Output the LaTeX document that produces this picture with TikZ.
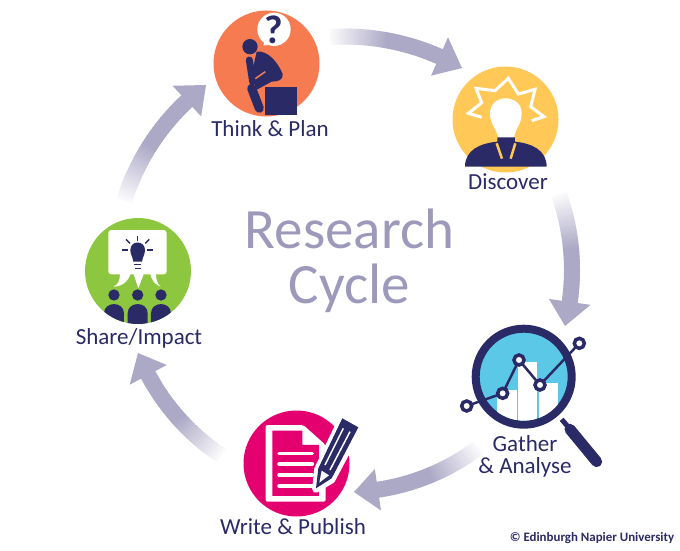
\documentclass[tikz,border=0pt]{standalone}
\usepackage{fontspec}
\setmainfont{Carlito}
\usetikzlibrary{calc}
\definecolor{inkNavy}{HTML}{2A2A66}
\definecolor{arrowGray}{HTML}{ACA9C6}
\definecolor{titleGray}{HTML}{9C99BA}
\definecolor{thinkOrange}{HTML}{F67B50}
\definecolor{discoverGold}{HTML}{FFC857}
\definecolor{gatherBlue}{HTML}{5BC8E8}
\definecolor{writePink}{HTML}{E5006F}
\definecolor{shareGreen}{HTML}{8DC63F}
\tikzset{
	stagedisc/.style={circle,inner sep=0pt,minimum size=106pt},
	stagelabel/.style={text=inkNavy,font=\fontsize{23}{22}\selectfont,inner sep=0pt,align=center},
	titlelabel/.style={text=titleGray,font=\fontsize{57}{55}\selectfont,inner sep=0pt,align=center},
	iconat/.style 2 args={shift={(#1,-#2)},x=.3333pt,y=-.3333pt},
}
\NewDocumentCommand\DrawCycleArrow{mm}%
{%
\foreach \i in {0,...,47}
{
	\pgfmathsetmacro\clr{min(100,6+94*\i/24)}
	\draw[arrowGray!\clr,line width=16pt] let \p1=($(#1)-(hub)$),\p2=($(#2)-(hub)$),
		\n1={atan2(\y1,\x1)},\n2={atan2(\y2,\x2)+6.2},\n3={veclen(\x2,\y2)},
		\n4={\n1+(\n2-\n1)*\i/48},\n5={(\n2-\n1)*1.3/48} in
		($(hub)+({\n4}:{\n3})$) arc[start angle=\n4,delta angle=\n5,radius=\n3];
}
\fill[arrowGray] let \p2=($(#2)-(hub)$),\n2={atan2(\y2,\x2)+6.2},\n3={veclen(\x2,\y2)} in
	($(hub)+({\n2}:{\n3-21})$) -- (#2) -- ($(hub)+({\n2}:{\n3+21})$) -- cycle;%
}
\begin{document}
\begin{tikzpicture}[x=1pt,y=1pt]
\useasboundingbox (0,0) rectangle (680,-551);
\coordinate (hub) at (345,-270);
\coordinate (thinkOut) at (330,-38);
\coordinate (discoverIn) at (462,-68);
\coordinate (discoverOut) at (563,-193);
\coordinate (gatherIn) at (565,-326);
\coordinate (gatherOut) at (478,-447);
\coordinate (writeIn) at (354,-492);
\coordinate (writeOut) at (223,-453);
\coordinate (shareIn) at (138,-353);
\coordinate (shareOut) at (128,-202);
\coordinate (thinkIn) at (206,-85);
\DrawCycleArrow{thinkOut}{discoverIn}
\DrawCycleArrow{discoverOut}{gatherIn}
\DrawCycleArrow{gatherOut}{writeIn}
\DrawCycleArrow{writeOut}{shareIn}
\DrawCycleArrow{shareOut}{thinkIn}
\node[titlelabel] (titleLabel) at (349.5,-260.5) {Research\\Cycle};

\node[stagedisc,fill=thinkOrange] (think) at (266.5,-63.5) {};
\begin{scope}[iconat={200}{0}]
	\fill[white] (222,88) circle[radius=50];
	\fill[white] (195,118) -- (190,137) -- (228,130) -- cycle;
	\node[text=inkNavy,font=\fontsize{40}{40}\bfseries\selectfont,inner sep=0pt] (askMark) at (220,88) {?};
	\fill[inkNavy] (150,140) circle[radius=23];
	\fill[inkNavy] (170,155) .. controls (205,150) and (235,190) .. (248,222) .. controls (250,240) and (235,245) .. (215,245) -- (165,272) -- (160,200) -- cycle;
	\draw[inkNavy,line width=9pt,line cap=round] (155,265) -- (178,325);
	\draw[inkNavy,line width=7pt,line cap=round] (148,180) -- (158,245);
	\draw[thinkOrange,line width=1.5pt] (166,236) -- (196,215);
	\fill[inkNavy] (195,262) rectangle (290,345);
\end{scope}

\node[stagedisc,fill=discoverGold] (discover) at (505.5,-119.5) {};
\begin{scope}[iconat={440}{60}]
	\draw[white,line width=3pt,line join=miter] (125,172) -- (85,160) -- (125,128) -- (108,85) -- (165,92) -- (205,55) -- (235,102) -- (285,88) -- (272,140) -- (312,170) -- (275,182);
	\fill[white] (175,235) .. controls (170,205) and (150,195) .. (150,160) .. controls (150,100) and (245,100) .. (245,160) .. controls (245,195) and (225,205) .. (222,235) -- cycle;
	\fill[inkNavy] (75,320) .. controls (75,270) and (120,250) .. (172,245) -- (172,232) -- (225,232) -- (225,245) .. controls (275,250) and (320,270) .. (320,320) -- cycle;
	\draw[discoverGold,line width=2.5pt] (170,250) -- (186,296);
	\draw[discoverGold,line width=2.5pt] (226,250) -- (212,296);
\end{scope}

\node[circle,inner sep=0pt,minimum size=96pt,draw=inkNavy,line width=8pt,fill=gatherBlue] (gather) at (523.7,-376.7) {};
\begin{scope}[iconat={450}{320}]
	\begin{scope}
		\clip (221,170) circle[radius=132];
		\fill[white] (142,210) rectangle (200,310);
		\fill[white] (205,125) rectangle (262,310);
		\fill[white] (267,190) rectangle (325,310);
	\end{scope}
	\draw[inkNavy,line width=2.5pt] (50,258) -- (158,220) -- (207,120) -- (270,195) -- (388,70);
	\foreach \px/\py in {50/258,158/220,207/120,270/195,388/70}
	{
		\fill[white,draw=inkNavy,line width=3.5pt] (\px,\py) circle[radius=15];
	}
	\draw[inkNavy,line width=5pt] (335,298) -- (358,325);
	\draw[inkNavy,line width=11pt,line cap=round] (360,328) -- (440,425);
\end{scope}

\node[stagedisc,fill=writePink] (write) at (296.5,-463.5) {};
\begin{scope}[iconat={215}{400}]
	\fill[white,rounded corners=2pt] (152,75) -- (265,75) -- (332,135) -- (332,305) -- (152,305) -- cycle;
	\fill[writePink] (172,92) -- (262,92) -- (262,135) -- (312,135) -- (312,288) -- (172,288) -- cycle;
	\foreach \ly in {160,192,225,258}
	{
		\draw[white,line width=3.5pt,line cap=round] (192,\ly) -- (292,\ly);
	}
	\draw[white,line width=7pt,line join=round] (384,50) -- (434,82) -- (350,240) -- (302,268) -- (308,208) -- cycle;
	\fill[inkNavy] (382,55) -- (430,82) -- (350,235) -- (303,265) -- (310,205) -- cycle;
	\draw[white,line width=1.5pt] (385,85) -- (330,195);
	\draw[white,line width=1.5pt] (405,95) -- (345,210);
	\fill[white] (320,212) -- (342,226) -- (313,248) -- cycle;
\end{scope}

\node[stagedisc,fill=shareGreen] (share) at (138,-271) {};
\begin{scope}[iconat={70}{215}]
	\fill[white,rounded corners=3pt] (115,45) rectangle (290,178);
	\fill[white] (150,175) .. controls (150,195) and (145,210) .. (130,215) .. controls (155,215) and (175,200) .. (182,175) -- cycle;
	\fill[white] (190,175) -- (205,220) -- (222,175) -- cycle;
	\fill[white] (240,175) .. controls (245,195) and (255,210) .. (272,215) .. controls (260,205) and (258,190) .. (258,175) -- cycle;
	\fill[inkNavy] (190,140) .. controls (188,125) and (181,118) .. (181,105) .. controls (181,75) and (225,75) .. (225,105) .. controls (225,118) and (218,125) .. (216,140) -- cycle;
	\draw[inkNavy,line width=1.5pt] (192,149) -- (214,149);
	\draw[inkNavy,line width=1.5pt] (195,160) -- (212,160);
	\draw[inkNavy,line width=1.5pt] (202,62) -- (202,78);
	\draw[inkNavy,line width=1.5pt] (168,73) -- (180,85);
	\draw[inkNavy,line width=1.5pt] (238,73) -- (226,85);
	\draw[inkNavy,line width=1.5pt] (157,105) -- (175,105);
	\draw[inkNavy,line width=1.5pt] (232,105) -- (250,105);
	\begin{scope}
		\clip (204,168) circle[radius=159];
		\foreach \hx/\hw in {132/30,203/30,273/30}
		{
			\fill[inkNavy] (\hx,240) circle[radius=17];
			\fill[inkNavy] (\hx-\hw,330) -- (\hx-\hw,295) .. controls (\hx-\hw,258) and (\hx+\hw,258) .. (\hx+\hw,295) -- (\hx+\hw,330) -- cycle;
		}
	\end{scope}
\end{scope}

\node[stagelabel] (thinkLabel) at (270,-129) {Think \& Plan};
\node[stagelabel] (discoverLabel) at (508,-182) {Discover};
\node[stagelabel] (gatherLabel) at (525,-456) {Gather\\\& Analyse};
\node[stagelabel] (writeLabel) at (293,-527) {Write \& Publish};
\node[stagelabel] (shareLabel) at (139,-338) {Share/Impact};
\node[text=inkNavy,font=\fontsize{12.9}{12.9}\bfseries\selectfont,inner sep=0pt] (creditLabel) at (592,-538) {© Edinburgh Napier University};
\end{tikzpicture}
\end{document}
